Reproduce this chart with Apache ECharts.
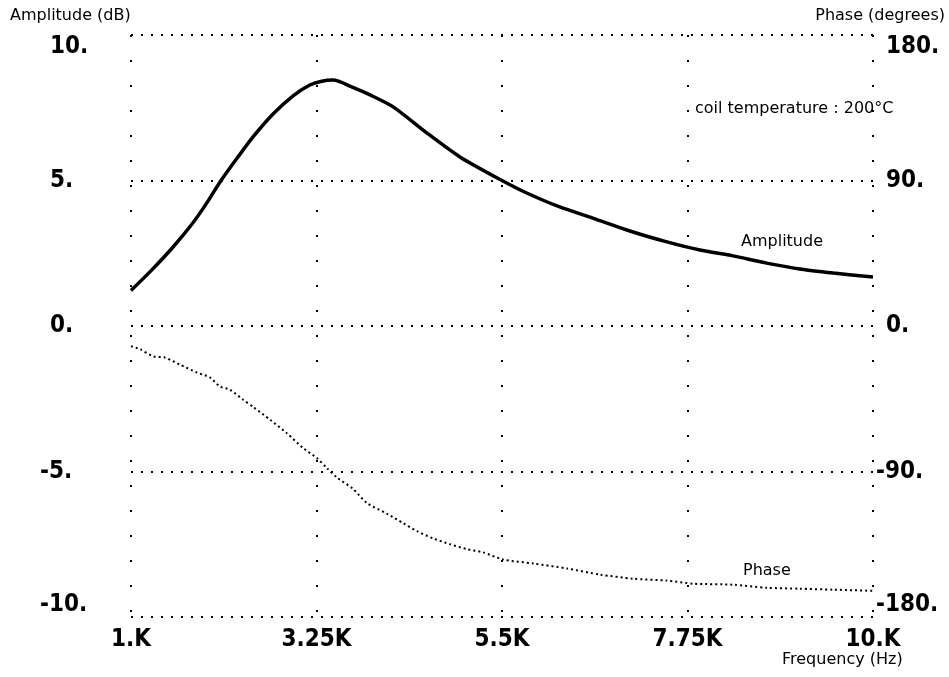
<!DOCTYPE html>
<html>
<head>
<meta charset="utf-8">
<script src="https://cdn.jsdelivr.net/npm/echarts@6/dist/echarts.min.js"></script>
<style>
  html, body { margin: 0; padding: 0; background: #fff; }
  #chart { width: 949px; height: 677px; }
</style>
</head>
<body>
<div id="chart"></div>
<script>
// Frequency response of the coil: amplitude (dB) and phase (degrees) vs frequency (kHz)
const ampFreq = [1.0, 1.25, 1.5, 1.75, 1.92, 2.08, 2.29, 2.48, 2.72, 2.97, 3.17, 3.3, 3.45, 3.69, 3.9, 4.18, 4.59, 4.99, 5.5, 5.8, 6.2, 6.6, 7.09, 7.5, 7.9, 8.3, 8.71, 9.11, 9.52, 10.0];
const ampDb = [1.22, 1.92, 2.68, 3.54, 4.23, 4.95, 5.78, 6.5, 7.28, 7.92, 8.28, 8.4, 8.45, 8.2, 7.94, 7.53, 6.63, 5.81, 5.0, 4.57, 4.09, 3.71, 3.23, 2.89, 2.61, 2.41, 2.16, 1.96, 1.82, 1.68];

const phaseFreq = [1.0, 1.11, 1.27, 1.41, 1.59, 1.8, 1.96, 2.08, 2.2, 2.36, 2.48, 2.69, 2.89, 3.09, 3.26, 3.38, 3.5, 3.69, 3.86, 4.11, 4.3, 4.47, 4.66, 4.87, 5.08, 5.27, 5.51, 5.88, 6.29, 6.69, 7.09, 7.5, 7.82, 8.3, 8.71, 9.11, 9.52, 10.0];
const phaseDeg = [-12.5, -14.4, -18.8, -19.5, -23.8, -28.8, -31.9, -37.5, -39.4, -45.6, -50, -58.1, -66.3, -75.6, -81.9, -88.1, -93.8, -100.6, -109.4, -116.3, -121.9, -126.9, -131.3, -135, -138.1, -140, -144.4, -146.9, -150, -153.8, -156.3, -157.5, -159.4, -160, -161.9, -162.5, -163.1, -163.8];

const xTickLabels = ['1.K', '3.25K', '5.5K', '7.75K', '10.K'];
const ampTickLabels = { '10': '10.', '5': '5.', '0': '0.', '-5': '-5.', '-10': '-10.' };
const phaseTickLabels = { '180': '180.', '90': '90.', '0': '0.', '-90': '-90.', '-180': '-180.' };

const tickFont = "'Liberation Sans Narrow', 'DejaVu Sans Condensed', 'Liberation Sans', sans-serif";
const textFont = "'DejaVu Sans', 'Noto Sans', sans-serif";
const tickSize = 24;

const ampData = ampFreq.map((f, i) => [f, ampDb[i]]);
const phaseData = phaseFreq.map((f, i) => [f, phaseDeg[i]]);

// Signed labels: digits line up, the minus sign hangs to the left
function signedLabel(map) {
  return function (v) {
    const s = map[String(v)];
    return v < 0 ? '{n|' + s + '}' : '{p|' + s + '}';
  };
}
const labelRich = {
  n: { fontFamily: tickFont, fontWeight: 'bold', fontSize: tickSize, color: '#000' },
  p: { fontFamily: tickFont, fontWeight: 'bold', fontSize: tickSize, color: '#000', padding: [0, 0, 0, 10] }
};

function caption(text, pos) {
  return Object.assign({
    type: 'text',
    style: { text: text, fontFamily: textFont, fontSize: 16, fill: '#000' }
  }, pos);
}

const chart = echarts.init(document.getElementById('chart'), null, { renderer: 'canvas' });
chart.setOption({
  backgroundColor: '#fff',
  animation: false,
  grid: { left: 131, right: 76, top: 35, bottom: 60 },
  xAxis: {
    type: 'value', min: 1, max: 10, interval: 2.25,
    axisLine: { show: false }, axisTick: { show: false },
    splitLine: { show: true, lineStyle: { color: '#000', width: 2, type: [2, 23] } },
    axisLabel: {
      margin: 11,
      fontFamily: tickFont, fontWeight: 'bold', fontSize: tickSize, color: '#000',
      formatter: function (v) {
        const idx = Math.round((v - 1) / 2.25);
        return xTickLabels[idx];
      }
    }
  },
  yAxis: [
    {
      type: 'value', min: -10, max: 10, interval: 5, position: 'left',
      axisLine: { show: false }, axisTick: { show: false },
      splitLine: { show: true, lineStyle: { color: '#000', width: 2, type: [2, 8] } },
      axisLabel: {
        align: 'left', margin: 91,
        verticalAlignMaxLabel: 'top', verticalAlignMinLabel: 'bottom',
        formatter: signedLabel(ampTickLabels), rich: labelRich
      }
    },
    {
      type: 'value', min: -180, max: 180, interval: 90, position: 'right',
      axisLine: { show: false }, axisTick: { show: false },
      splitLine: { show: false },
      axisLabel: {
        align: 'left', margin: 3,
        verticalAlignMaxLabel: 'top', verticalAlignMinLabel: 'bottom',
        formatter: signedLabel(phaseTickLabels), rich: labelRich
      }
    }
  ],
  series: [
    {
      name: 'Amplitude', type: 'line', data: ampData, smooth: 0.25,
      showSymbol: false, yAxisIndex: 0,
      lineStyle: { color: '#000', width: 3.5 }
    },
    {
      name: 'Phase', type: 'line', data: phaseData, smooth: 0.25,
      showSymbol: false, yAxisIndex: 1,
      lineStyle: { color: '#000', width: 2, type: [2, 3] }
    }
  ],
  graphic: [
    caption('Amplitude (dB)', { left: 10, top: 8 }),
    caption('Phase (degrees)', { right: 4, top: 8 }),
    caption('Frequency (Hz)', { left: 782, top: 652 }),
    caption('coil temperature : 200°C', { left: 695, top: 101 }),
    caption('Amplitude', { left: 741, top: 234 }),
    caption('Phase', { left: 743, top: 563 })
  ]
});
</script>
</body>
</html>
